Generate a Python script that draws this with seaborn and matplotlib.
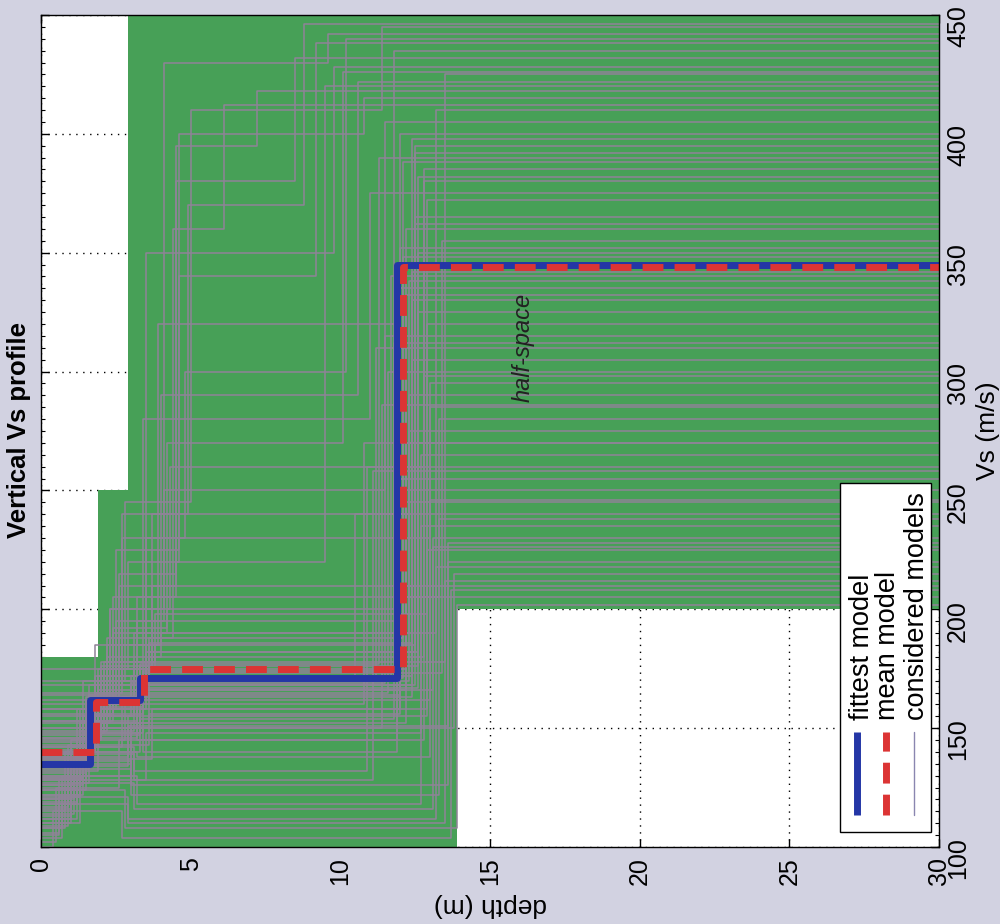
import matplotlib
matplotlib.use('Agg')
import pandas as pd
import matplotlib.pyplot as plt
from matplotlib.patches import Rectangle
from matplotlib.ticker import MultipleLocator
import seaborn as sns

# limites do espaco de busca (profundidade x Vs)
bound_depth = [0, 1.9, 1.9, 2.9, 2.9, 13.9, 13.9, 30]
bound_low = [100, 100, 100, 100, 100, 100, 200, 200]
bound_high = [180, 180, 250, 250, 450, 450, 450, 450]

# modelos considerados: Vs das camadas (m/s) e profundidade das interfaces (m)
cm_vs1 = [135, 130, 140, 128, 145, 125, 138, 132, 120, 150, 115, 142, 110, 155, 136, 126, 160,
          118, 148, 134, 122, 165, 105, 140, 130, 170, 112, 144, 127, 152, 108, 137, 175, 118,
          146, 124, 158, 114, 133, 141, 102, 149, 129, 162, 121, 135, 117, 153, 139, 110,
          112, 128, 146, 104, 138, 122, 158, 116, 134, 150, 108, 126, 142, 120, 164, 131,
          100, 147, 119, 137, 153, 106, 129, 143, 113, 168, 124, 139, 109, 156]
cm_z1 = [1.6, 1.4, 1.8, 1.5, 2.0, 1.2, 1.7, 1.9, 1.0, 2.2, 0.8, 1.6, 1.3, 2.4, 1.5, 1.1, 2.6,
         0.9, 2.1, 1.7, 1.4, 2.7, 0.6, 1.8, 1.3, 2.8, 1.0, 1.9, 1.6, 2.3, 0.7, 1.6, 2.9, 1.2,
         2.0, 1.5, 2.5, 1.1, 1.6, 1.8, 0.5, 2.2, 1.4, 2.6, 1.3, 1.7, 0.9, 2.4, 1.5, 1.0,
         1.2, 1.5, 1.9, 0.7, 1.6, 1.3, 2.3, 1.0, 1.7, 2.1, 0.8, 1.4, 1.8, 1.1, 2.5, 1.5,
         0.4, 2.0, 1.2, 1.6, 2.2, 0.6, 1.4, 1.9, 1.0, 2.7, 1.3, 1.7, 0.9, 2.4]
cm_vs2 = [160, 155, 165, 150, 170, 158, 148, 175, 145, 180, 140, 168, 152, 190, 162, 138, 210,
          135, 175, 160, 170, 230, 128, 185, 158, 245, 142, 166, 150, 200, 130, 164, 220, 146,
          178, 155, 195, 137, 161, 172, 125, 188, 153, 215, 149, 159, 143, 205, 163, 134,
          130, 150, 172, 118, 160, 142, 200, 136, 158, 178, 124, 148, 168, 140, 225, 156,
          115, 176, 139, 163, 185, 121, 152, 170, 133, 240, 147, 162, 127, 192]
cm_z2 = [3.3, 3.1, 3.5, 3.2, 3.6, 3.0, 3.4, 3.8, 2.8, 4.0, 3.3, 3.1, 3.6, 4.2, 3.3, 2.9, 4.5,
         3.0, 3.7, 3.4, 3.2, 4.8, 3.5, 3.9, 3.1, 5.0, 2.7, 3.5, 3.3, 4.3, 3.0, 3.4, 4.6, 3.2,
         3.6, 3.0, 4.1, 3.7, 3.3, 3.5, 2.6, 4.4, 3.2, 4.5, 3.1, 3.4, 3.6, 4.5, 3.3, 2.9,
         3.2, 3.4, 3.6, 2.9, 3.3, 3.1, 4.1, 3.0, 3.5, 3.8, 2.8, 3.3, 3.5, 3.2, 4.6, 3.4,
         2.7, 3.7, 3.1, 3.3, 4.0, 2.9, 3.2, 3.6, 3.0, 4.9, 3.3, 3.4, 3.1, 4.2]
cm_vs3 = [170, 168, 175, 165, 180, 172, 162, 185, 160, 190, 158, 178, 170, 200, 176, 155, 220,
          150, 240, 280, 195, 300, 148, 320, 166, 410, 163, 350, 172, 260, 152, 174, 400, 205,
          182, 169, 430, 158, 171, 230, 145, 360, 167, 380, 190, 173, 156, 395, 177, 151,
          118, 140, 186, 112, 164, 132, 250, 126, 170, 198, 108, 150, 182, 138, 340, 166,
          104, 210, 128, 172, 290, 110, 145, 188, 122, 370, 154, 168, 116, 270]
cm_z3 = [12.0, 12.4, 12.2, 11.6, 12.8, 11.2, 13.0, 12.5, 10.8, 13.2, 12.0, 13.5, 10.5, 11.8,
         12.6, 12.9, 9.5, 13.8, 12.3, 11.0, 12.1, 10.2, 12.7, 12.0, 13.1, 11.4, 12.4, 9.8, 11.7,
         12.8, 12.2, 12.0, 10.8, 13.3, 12.5, 11.5, 9.6, 12.9, 12.1, 13.0, 11.9, 6.1, 12.6, 8.5,
         12.3, 13.4, 12.0, 7.2, 11.3, 13.6,
         12.7, 11.9, 12.4, 13.2, 12.0, 10.9, 11.5, 13.6, 12.3, 12.9, 13.9, 11.4, 12.6, 13.0,
         9.2, 12.2, 13.7, 12.5, 11.1, 12.4, 10.6, 13.5, 12.8, 12.1, 13.3, 8.8, 11.8, 12.5,
         13.1, 10.1]
cm_vs4 = [345, 330, 360, 300, 380, 310, 285, 395, 270, 410, 255, 425, 240, 435, 350, 320, 420,
          215, 290, 375, 205, 440, 265, 400, 230, 445, 305, 428, 340, 385, 245, 335, 415, 280,
          365, 315, 442, 225, 348, 295, 210, 412, 325, 432, 275, 355, 250, 418, 390, 220,
          235, 270, 398, 218, 352, 260, 405, 228, 338, 372, 202, 286, 382, 246, 438, 332,
          208, 392, 258, 342, 422, 212, 298, 388, 238, 446, 312, 362, 226, 426]

# modelo mais ajustado e modelo medio
fit_depth = [0, 1.65, 3.3, 11.9]
fit_vs = [135, 162, 171, 345]
mean_depth = [0, 1.85, 3.45, 12.1]
mean_vs = [140, 161, 175, 344]

depth_ticks = [0, 5, 10, 15, 20, 25, 30]
vs_ticks = [100, 150, 200, 250, 300, 350, 400, 450]

BG = '#d2d2e1'
VERDE = '#47a057'
CINZA = '#8f8398'
AZUL = '#2436a6'
VERMELHO = '#dc3434'


def perfil(tops, vs, zmax=30):
    # transforma camadas em perfil em degraus
    xs, ys = [], []
    for i, v in enumerate(vs):
        z0 = tops[i]
        z1 = tops[i + 1] if i + 1 < len(tops) else zmax
        xs += [z0, z1]
        ys += [v, v]
    return xs, ys


linhas = []
for m in range(len(cm_vs1)):
    tops = [0, cm_z1[m], cm_z2[m], cm_z3[m]]
    vs = [cm_vs1[m], cm_vs2[m], cm_vs3[m], cm_vs4[m]]
    xs, ys = perfil(tops, vs)
    for k, (x, y) in enumerate(zip(xs, ys)):
        linhas.append({'modelo': m, 'ordem': k, 'depth': x, 'vs': y})
df_cm = pd.DataFrame(linhas)

fx, fy = perfil(fit_depth, fit_vs)
mx, my = perfil(mean_depth, mean_vs)

sns.set_theme(style='ticks')
plt.rcParams['font.family'] = ['Liberation Sans', 'DejaVu Sans']
plt.rcParams['text.color'] = 'black'
plt.rcParams['axes.labelcolor'] = 'black'

fig = plt.figure(figsize=(10, 9.24), dpi=100, facecolor=BG)
ax = fig.add_axes([0.041, 0.0833, 0.898, 0.9005])
ax.set_facecolor('white')

ax.fill_between(bound_depth, bound_low, bound_high, color=VERDE, lw=0, zorder=1)

sns.lineplot(data=df_cm, x='depth', y='vs', units='modelo', estimator=None, sort=False,
             color=CINZA, lw=1.1, legend=False, ax=ax, zorder=2)
sns.lineplot(x=fx, y=fy, estimator=None, sort=False, color=AZUL, lw=5, ax=ax, zorder=3)
sns.lineplot(x=mx, y=my, estimator=None, sort=False, color=VERMELHO, lw=5,
             linestyle=(0, (3, 1.6)), ax=ax, zorder=4)

ax.text(16.1, 310, 'half-space', rotation=90, style='italic', ha='center', va='center',
        fontsize=17, color='#222222', zorder=4)

ax.set_xlim(0, 30)
ax.set_ylim(100, 450)
ax.set_xticks(depth_ticks)
ax.set_yticks(vs_ticks)
ax.yaxis.set_minor_locator(MultipleLocator(5))
ax.yaxis.tick_right()
ax.tick_params(axis='both', which='both', direction='in', top=True, bottom=True,
               left=True, right=True, colors='black', labelcolor='black')
ax.tick_params(axis='both', which='major', length=6, width=1, labelsize=18, labelrotation=90)
ax.tick_params(axis='x', which='major', pad=7)
ax.tick_params(axis='y', which='major', pad=5)
ax.tick_params(axis='y', which='minor', length=3, width=0.8)
ax.set_axisbelow(True)
ax.grid(True, which='major', color='black', linestyle=(0, (1, 4)), lw=1)
for s in ax.spines.values():
    s.set_color('black')
    s.set_linewidth(1)
    s.set_zorder(6)

ax.set_xlabel('depth (m)', rotation=180, fontsize=19, va='center', ha='center', color='black')
ax.xaxis.set_label_coords(0.5, -0.0697)
ax.yaxis.set_label_position('right')
ax.set_ylabel('Vs (m/s)', rotation=90, fontsize=19, va='center', ha='center', color='black')
ax.yaxis.set_label_coords(1.0546, 0.5)

fig.text(0.019, 0.5346, 'Vertical Vs profile', rotation=90, ha='center', va='center',
         fontsize=18.5, fontweight='bold', color='black')

# legenda desenhada a mao (texto girado)
ax.add_patch(Rectangle((0.890, 0.018), 0.101, 0.4195, transform=ax.transAxes,
                       facecolor='white', edgecolor='black', lw=1, zorder=7))
ax.plot([0.909, 0.909], [0.038, 0.138], transform=ax.transAxes, color=AZUL, lw=5,
        zorder=8, solid_capstyle='butt')
ax.plot([0.941, 0.941], [0.038, 0.138], transform=ax.transAxes, color=VERMELHO, lw=5,
        linestyle=(0, (3, 1.6)), zorder=8)
ax.plot([0.972, 0.972], [0.038, 0.138], transform=ax.transAxes, color='#8a86b0', lw=1,
        zorder=8)
for xt, txt in [(0.914, 'fittest model'), (0.943, 'mean model'), (0.9755, 'considered models')]:
    ax.text(xt, 0.153, txt, rotation=90, ha='center', va='bottom', fontsize=19.5,
            transform=ax.transAxes, zorder=8, color='black')

fig.savefig('out.png', dpi=100, facecolor=BG)
